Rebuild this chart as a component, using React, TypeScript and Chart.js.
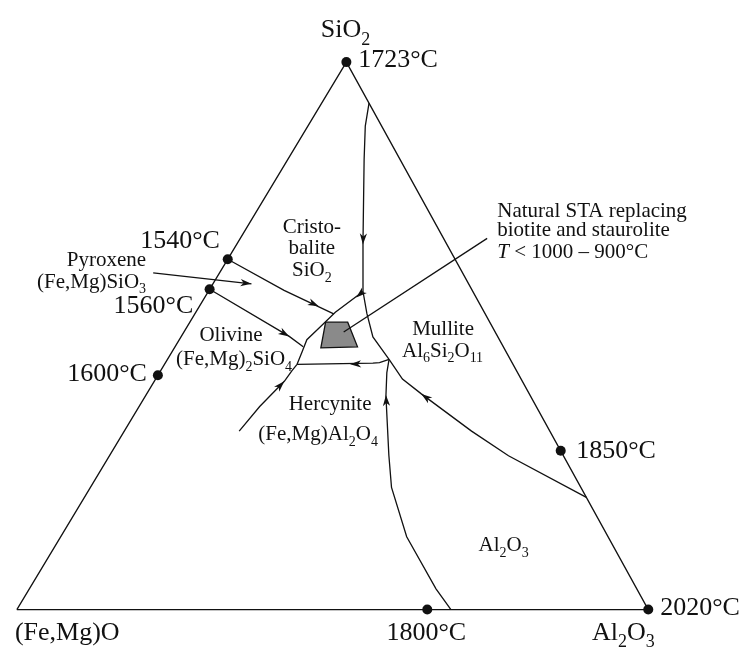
import React, { useEffect, useRef } from 'react';
import { Chart, registerables } from 'chart.js';

Chart.register(...registerables);

// Compositions are given as [SiO2 %, Al2O3 %]; (Fe,Mg)O is the remainder.
type Comp = [number, number];

// Horizontal position of the SiO2 apex along the base (the drawn triangle is slightly skewed).
const APEX_SHIFT = 0.5219;

const triangleEdges: Comp[] = [[0, 0], [0, 100], [100, 0], [0, 0]];

const liquidusDots: Comp[] = [[100, 0], [64, 0], [58.5, 0], [42.8, 0], [29, 71], [0, 100], [0, 65]];
const liquidusTemps = ['1723°C', '1540°C', '1560°C', '1600°C', '1850°C', '2020°C', '1800°C'];

const cristobaliteMullite: Comp[] = [[92.5, 7.5], [88.3, 9.1], [82.2, 12.1], [67.1, 19.8], [58.1, 24.5], [54.1, 27.2], [49.8, 30.4], [45.7, 35.1]];
const mulliteCorundum: Comp[] = [[45.7, 35.1], [42.1, 39.1], [39.4, 43.5], [32.6, 55.0], [28.1, 63.2], [20.5, 79.5]];
const hercyniteCorundum: Comp[] = [[0, 68.75], [3.8, 64.4], [13.3, 54.8], [22.3, 47.7], [28.2, 44.2], [39.0, 38.1], [43.3, 36.0], [45.7, 35.1]];
const mulliteHercynite: Comp[] = [[45.7, 35.1], [45.1, 33.9], [45.0, 32.9], [44.8, 21.0]];
const cristobaliteOlivine: Comp[] = [[58.1, 24.5], [54.3, 22.1], [51.4, 21.0], [49.3, 20.2], [47.1, 20.6], [44.8, 21.0]];
const olivineHercynite: Comp[] = [[32.6, 18.2], [37.1, 19.1], [41.7, 20.6], [43.7, 20.8], [44.8, 21.0]];
const pyroxeneBoundary: Comp[] = [[64, 0], [58.3, 11.9], [54.0, 22.0]];
const olivineBoundary: Comp[] = [[58.5, 0], [49.9, 17.1], [48.0, 20.3]];

const staField: Comp[] = [[52.5, 21.5], [52.5, 25.0], [48.0, 28.9], [47.8, 23.2], [52.5, 21.5]];
const staPointer: Comp[] = [[50.7, 25.3], [67.8, 39.1]];
const pyroxenePointer: Comp[] = [[61.5, -10.5], [59.5, 6.1]];

// [tail, tip] of each arrow (direction of falling temperature)
const arrows: [Comp, Comp][] = [
  [[70.0, 18.4], [66.7, 20.0]],
  [[58.1, 24.5], [57.0, 24.0]],
  [[58.3, 11.9], [55.4, 18.9]],
  [[58.5, 0], [49.9, 17.1]],
  [[37.1, 19.1], [41.7, 20.6]],
  [[45.0, 32.9], [44.8, 29.4]],
  [[28.2, 44.2], [39.2, 38.0]],
  [[32.6, 55.0], [39.4, 43.5]],
  [[61.5, -10.5], [59.5, 6.1]],
];

// Text labels: plot coordinates (x along the base, y = height), size, alignment
type Label = { text: string; x: number; y: number; size: number; align: 'left' | 'center' | 'right' };
const cornerLabels: Label[] = [
  { text: 'SiO_{2}', x: 48.13, y: 104.5, size: 26, align: 'left' },
  { text: '(Fe,Mg)O', x: -0.31, y: -5.58, size: 26, align: 'left' },
  { text: 'Al_{2}O_{3}', x: 91.09, y: -5.58, size: 26, align: 'left' },
];
const tempLabelPos: Omit<Label, 'text'>[] = [
  { x: 54.06, y: 99.05, size: 26, align: 'left' },
  { x: 19.53, y: 66.01, size: 26, align: 'left' },
  { x: 15.31, y: 54.23, size: 26, align: 'left' },
  { x: 7.97, y: 41.78, size: 26, align: 'left' },
  { x: 88.59, y: 27.7, size: 26, align: 'left' },
  { x: 101.88, y: -0.9, size: 26, align: 'left' },
  { x: 64.84, y: -5.58, size: 26, align: 'center' },
];
const fieldLabels: Label[] = [
  { text: 'Cristo-', x: 46.72, y: 68.71, size: 21, align: 'center' },
  { text: 'balite', x: 46.72, y: 64.93, size: 21, align: 'center' },
  { text: 'SiO_{2}', x: 46.72, y: 60.97, size: 21, align: 'center' },
  { text: 'Pyroxene', x: 20.47, y: 62.77, size: 21, align: 'right' },
  { text: '(Fe,Mg)SiO_{3}', x: 20.47, y: 58.81, size: 21, align: 'right' },
  { text: 'Olivine', x: 33.91, y: 48.97, size: 21, align: 'center' },
  { text: '(Fe,Mg)_{2}SiO_{4}', x: 43.59, y: 44.6, size: 21, align: 'right' },
  { text: 'Mullite', x: 67.5, y: 50.18, size: 21, align: 'center' },
  { text: 'Al_{6}Si_{2}O_{11}', x: 67.42, y: 46.22, size: 21, align: 'center' },
  { text: 'Hercynite', x: 49.61, y: 36.38, size: 21, align: 'center' },
  { text: '(Fe,Mg)Al_{2}O_{4}', x: 57.19, y: 30.99, size: 21, align: 'right' },
  { text: 'Natural STA replacing', x: 76.09, y: 71.76, size: 21, align: 'left' },
  { text: 'biotite and staurolite', x: 76.09, y: 68.17, size: 21, align: 'left' },
  { text: '*T* < 1000 – 900°C', x: 76.09, y: 64.26, size: 21, align: 'left' },
  { text: 'Al_{2}O_{3}', x: 73.13, y: 10.61, size: 21, align: 'left' },
];

const FONT = '"Liberation Serif", "Times New Roman", serif';

const toPt = ([si, al]: Comp) => ({ x: al + si * APEX_SHIFT, y: si });

type Seg = { t: string; sub: boolean; it: boolean };
function parseRich(s: string): Seg[] {
  const segs: Seg[] = [];
  let buf = '';
  let it = false;
  let i = 0;
  const flush = () => {
    if (buf) segs.push({ t: buf, sub: false, it });
    buf = '';
  };
  while (i < s.length) {
    if (s.startsWith('_{', i)) {
      flush();
      const j = s.indexOf('}', i);
      segs.push({ t: s.slice(i + 2, j), sub: true, it });
      i = j + 1;
    } else if (s[i] === '*') {
      flush();
      it = !it;
      i++;
    } else {
      buf += s[i++];
    }
  }
  flush();
  return segs;
}

function drawRich(ctx: CanvasRenderingContext2D, text: string, x: number, y: number, size: number, align: string) {
  const segs = parseRich(text).map((s) => {
    const sz = s.sub ? Math.round(size * 0.68) : size;
    const font = `${s.it ? 'italic ' : ''}${sz}px ${FONT}`;
    ctx.font = font;
    return { ...s, font, w: ctx.measureText(s.t).width };
  });
  const total = segs.reduce((a, s) => a + s.w, 0);
  let cx = align === 'center' ? x - total / 2 : align === 'right' ? x - total : x;
  for (const s of segs) {
    ctx.font = s.font;
    ctx.fillText(s.t, cx, y + (s.sub ? size * 0.28 : 0));
    cx += s.w;
  }
}

const lineDs = (data: Comp[], extra: any = {}) => ({
  data: data.map(toPt),
  showLine: true,
  borderColor: '#111',
  borderWidth: 1.3,
  pointRadius: 0,
  fill: false,
  tension: 0,
  clip: false as any,
  ...extra,
});

export default function App() {
  const ref = useRef<HTMLCanvasElement | null>(null);

  useEffect(() => {
    document.body.style.margin = '0';
    const canvas = ref.current;
    if (!canvas) return;

    const arrowPlugin = {
      id: 'arrowheads',
      afterDatasetsDraw(chart: any) {
        const { ctx, scales } = chart;
        const px = (c: Comp) => {
          const p = toPt(c);
          return [scales.x.getPixelForValue(p.x), scales.y.getPixelForValue(p.y)];
        };
        ctx.save();
        ctx.fillStyle = '#111';
        for (const [tail, tip] of arrows) {
          const [x0, y0] = px(tail);
          const [x1, y1] = px(tip);
          const d = Math.hypot(x1 - x0, y1 - y0) || 1;
          const ux = (x1 - x0) / d;
          const uy = (y1 - y0) / d;
          const L = 11;
          const W = 3.6;
          ctx.beginPath();
          ctx.moveTo(x1, y1);
          ctx.lineTo(x1 - L * ux - W * uy, y1 - L * uy + W * ux);
          ctx.lineTo(x1 - 0.72 * L * ux, y1 - 0.72 * L * uy);
          ctx.lineTo(x1 - L * ux + W * uy, y1 - L * uy - W * ux);
          ctx.closePath();
          ctx.fill();
        }
        ctx.restore();
      },
    };

    const labelPlugin = {
      id: 'richLabels',
      afterDraw(chart: any) {
        const { ctx, scales } = chart;
        ctx.save();
        ctx.fillStyle = '#111';
        ctx.textBaseline = 'alphabetic';
        const all: Label[] = [
          ...cornerLabels,
          ...liquidusTemps.map((t, i) => ({ text: t, ...tempLabelPos[i] })),
          ...fieldLabels,
        ];
        for (const l of all) {
          drawRich(ctx, l.text, scales.x.getPixelForValue(l.x), scales.y.getPixelForValue(l.y), l.size, l.align);
        }
        ctx.restore();
      },
    };

    const chart = new Chart(canvas, {
      type: 'scatter',
      data: {
        datasets: [
          lineDs(liquidusDots, { showLine: false, pointRadius: 5, pointBackgroundColor: '#111', pointBorderWidth: 0 }),
          lineDs(triangleEdges),
          lineDs(cristobaliteMullite),
          lineDs(mulliteCorundum),
          lineDs(hercyniteCorundum),
          lineDs(mulliteHercynite),
          lineDs(cristobaliteOlivine),
          lineDs(olivineHercynite),
          lineDs(pyroxeneBoundary),
          lineDs(olivineBoundary),
          lineDs(staPointer),
          lineDs(pyroxenePointer),
          lineDs(staField, { fill: 'shape', backgroundColor: '#8a8a8a' }),
        ] as any,
      },
      options: {
        animation: false,
        responsive: false,
        maintainAspectRatio: false,
        layout: { padding: 0 },
        plugins: { legend: { display: false }, tooltip: { enabled: false } },
        scales: {
          x: { type: 'linear', display: false, min: -1.875, max: 114.6875 },
          y: { type: 'linear', display: false, min: -6.835, max: 110.432 },
        },
      },
      plugins: [arrowPlugin, labelPlugin],
    });

    return () => chart.destroy();
  }, []);

  return (
    <div style={{ width: 746, height: 652, background: '#fff' }}>
      <canvas ref={ref} width={746} height={652} style={{ display: 'block' }} />
    </div>
  );
}
